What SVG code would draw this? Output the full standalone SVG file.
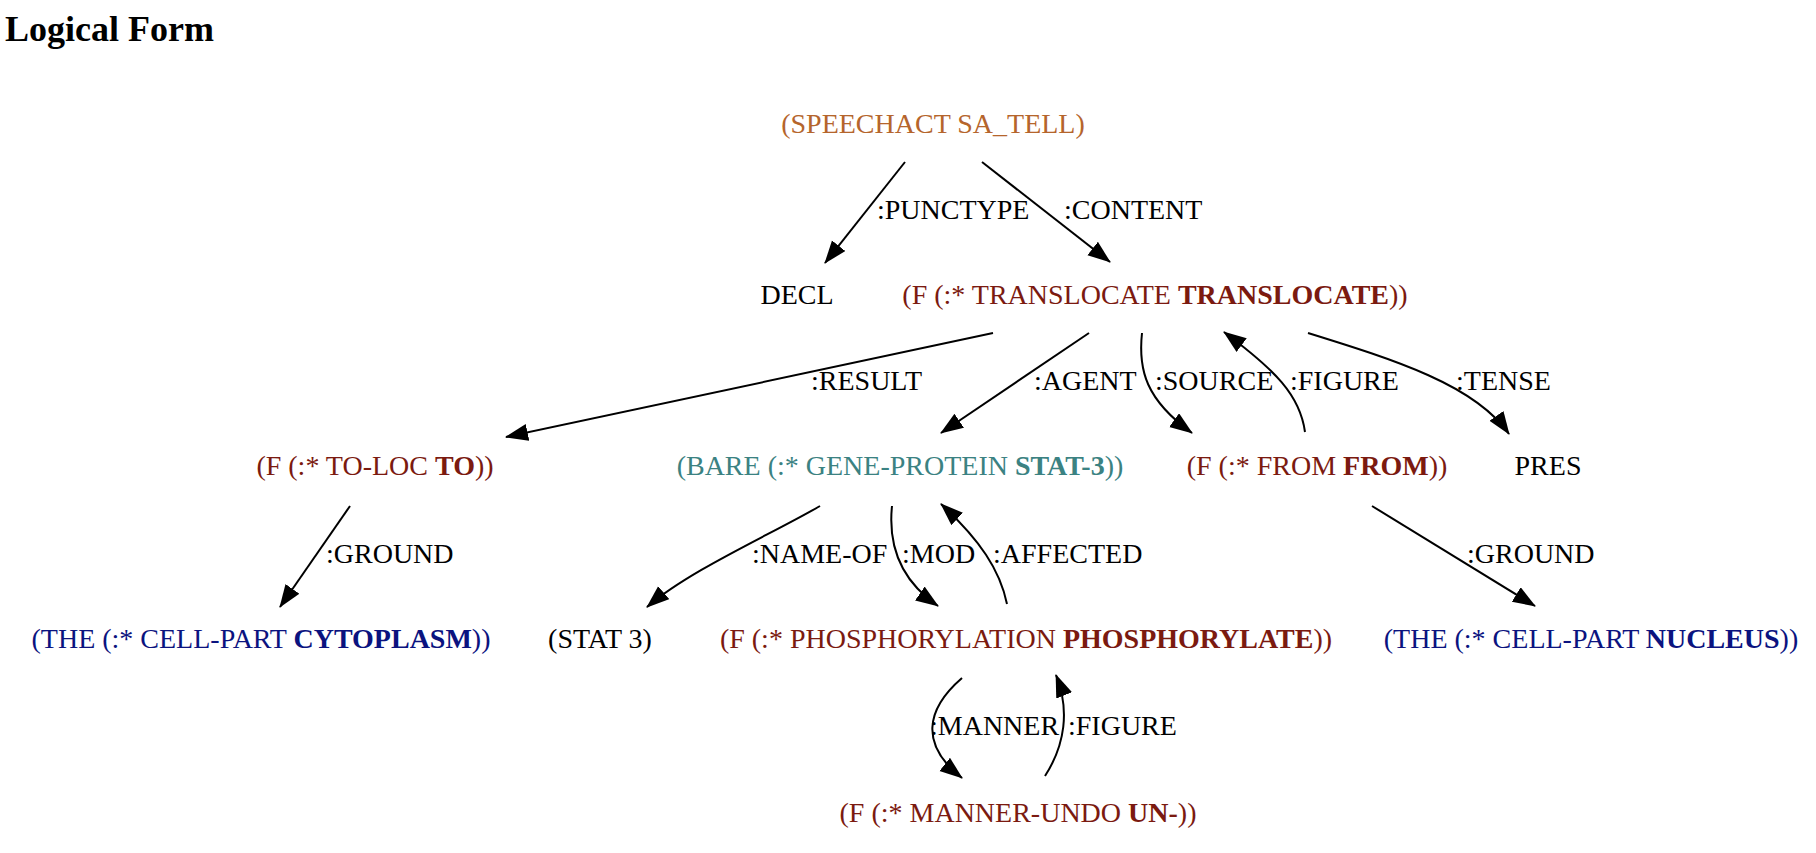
<svg xmlns="http://www.w3.org/2000/svg" width="1816" height="853" viewBox="0 0 1816 853">
<style>
text{font-family:"Liberation Serif","Times New Roman",serif;font-size:28px;fill:#000}
.title{font-size:36px;font-weight:bold}
.node{text-anchor:middle}
.b{font-weight:bold}
.sa{fill:#b5652c}
.red{fill:#7b1a10}
.teal{fill:#3b8282}
.navy{fill:#0b137f}
.edge{fill:none;stroke:#000;stroke-width:2;marker-end:url(#arr)}
</style>
<defs>
<marker id="arr" markerUnits="userSpaceOnUse" markerWidth="24" markerHeight="18" refX="22" refY="8.5" orient="auto">
<path d="M0,0 L23,8.5 L0,17 z" fill="#000"/>
</marker>
</defs>
<rect width="1816" height="853" fill="#fff"/>
<text class="title" x="5" y="41">Logical Form</text>

<g id="connectors">
<path class="edge" d="M905,162 L825,263"/>
<path class="edge" d="M982,162 L1110,262"/>
<path class="edge" d="M993,333 L506,437"/>
<path class="edge" d="M1089,333 L941,433"/>
<path class="edge" d="M1142,333 C1138,370 1146,400 1192,433"/>
<path class="edge" d="M1305,432 C1300,395 1275,370 1224,332"/>
<path class="edge" d="M1308,333 C1395,360 1475,385 1509,434"/>
<path class="edge" d="M350,506 L280,607"/>
<path class="edge" d="M820,506 C770,535 690,570 647,607"/>
<path class="edge" d="M892,506 C888,545 900,580 938,606"/>
<path class="edge" d="M1007,604 C1000,570 980,540 941,504"/>
<path class="edge" d="M1372,506 L1535,606"/>
<path class="edge" d="M962,678 C925,710 920,745 962,778"/>
<path class="edge" d="M1045,776 C1065,745 1070,710 1056,675"/>
</g>

<g id="edge-labels">
<text x="877" y="219">:PUNCTYPE</text>
<text x="1064" y="219">:CONTENT</text>
<text x="811" y="390">:RESULT</text>
<text x="1034" y="390">:AGENT</text>
<text x="1155" y="390">:SOURCE</text>
<text x="1290" y="390">:FIGURE</text>
<text x="1456" y="390">:TENSE</text>
<text x="326" y="563">:GROUND</text>
<text x="752" y="563">:NAME-OF</text>
<text x="902" y="563">:MOD</text>
<text x="993" y="563">:AFFECTED</text>
<text x="1467" y="563">:GROUND</text>
<text x="930" y="735">:MANNER</text>
<text x="1068" y="735">:FIGURE</text>
</g>

<g id="n-speechact"><text class="node sa" x="933" y="133">(SPEECHACT SA_TELL)</text></g>
<g id="n-decl"><text class="node" x="797" y="304">DECL</text></g>
<g id="n-translocate"><text class="node red" x="1155" y="304">(F (:* TRANSLOCATE <tspan class="b">TRANSLOCATE</tspan>))</text></g>
<g id="n-toloc"><text class="node red" x="375" y="475">(F (:* TO-LOC <tspan class="b">TO</tspan>))</text></g>
<g id="n-bare"><text class="node teal" x="900" y="475">(BARE (:* GENE-PROTEIN <tspan class="b">STAT-3</tspan>))</text></g>
<g id="n-from"><text class="node red" x="1317" y="475">(F (:* FROM <tspan class="b">FROM</tspan>))</text></g>
<g id="n-pres"><text class="node" x="1548" y="475">PRES</text></g>
<g id="n-cytoplasm"><text class="node navy" x="261" y="648">(THE (:* CELL-PART <tspan class="b">CYTOPLASM</tspan>))</text></g>
<g id="n-stat3"><text class="node" x="600" y="648">(STAT 3)</text></g>
<g id="n-phos"><text class="node red" x="1026" y="648">(F (:* PHOSPHORYLATION <tspan class="b">PHOSPHORYLATE</tspan>))</text></g>
<g id="n-nucleus"><text class="node navy" x="1591" y="648">(THE (:* CELL-PART <tspan class="b">NUCLEUS</tspan>))</text></g>
<g id="n-undo"><text class="node red" x="1018" y="822">(F (:* MANNER-UNDO <tspan class="b">UN-</tspan>))</text></g>
</svg>
